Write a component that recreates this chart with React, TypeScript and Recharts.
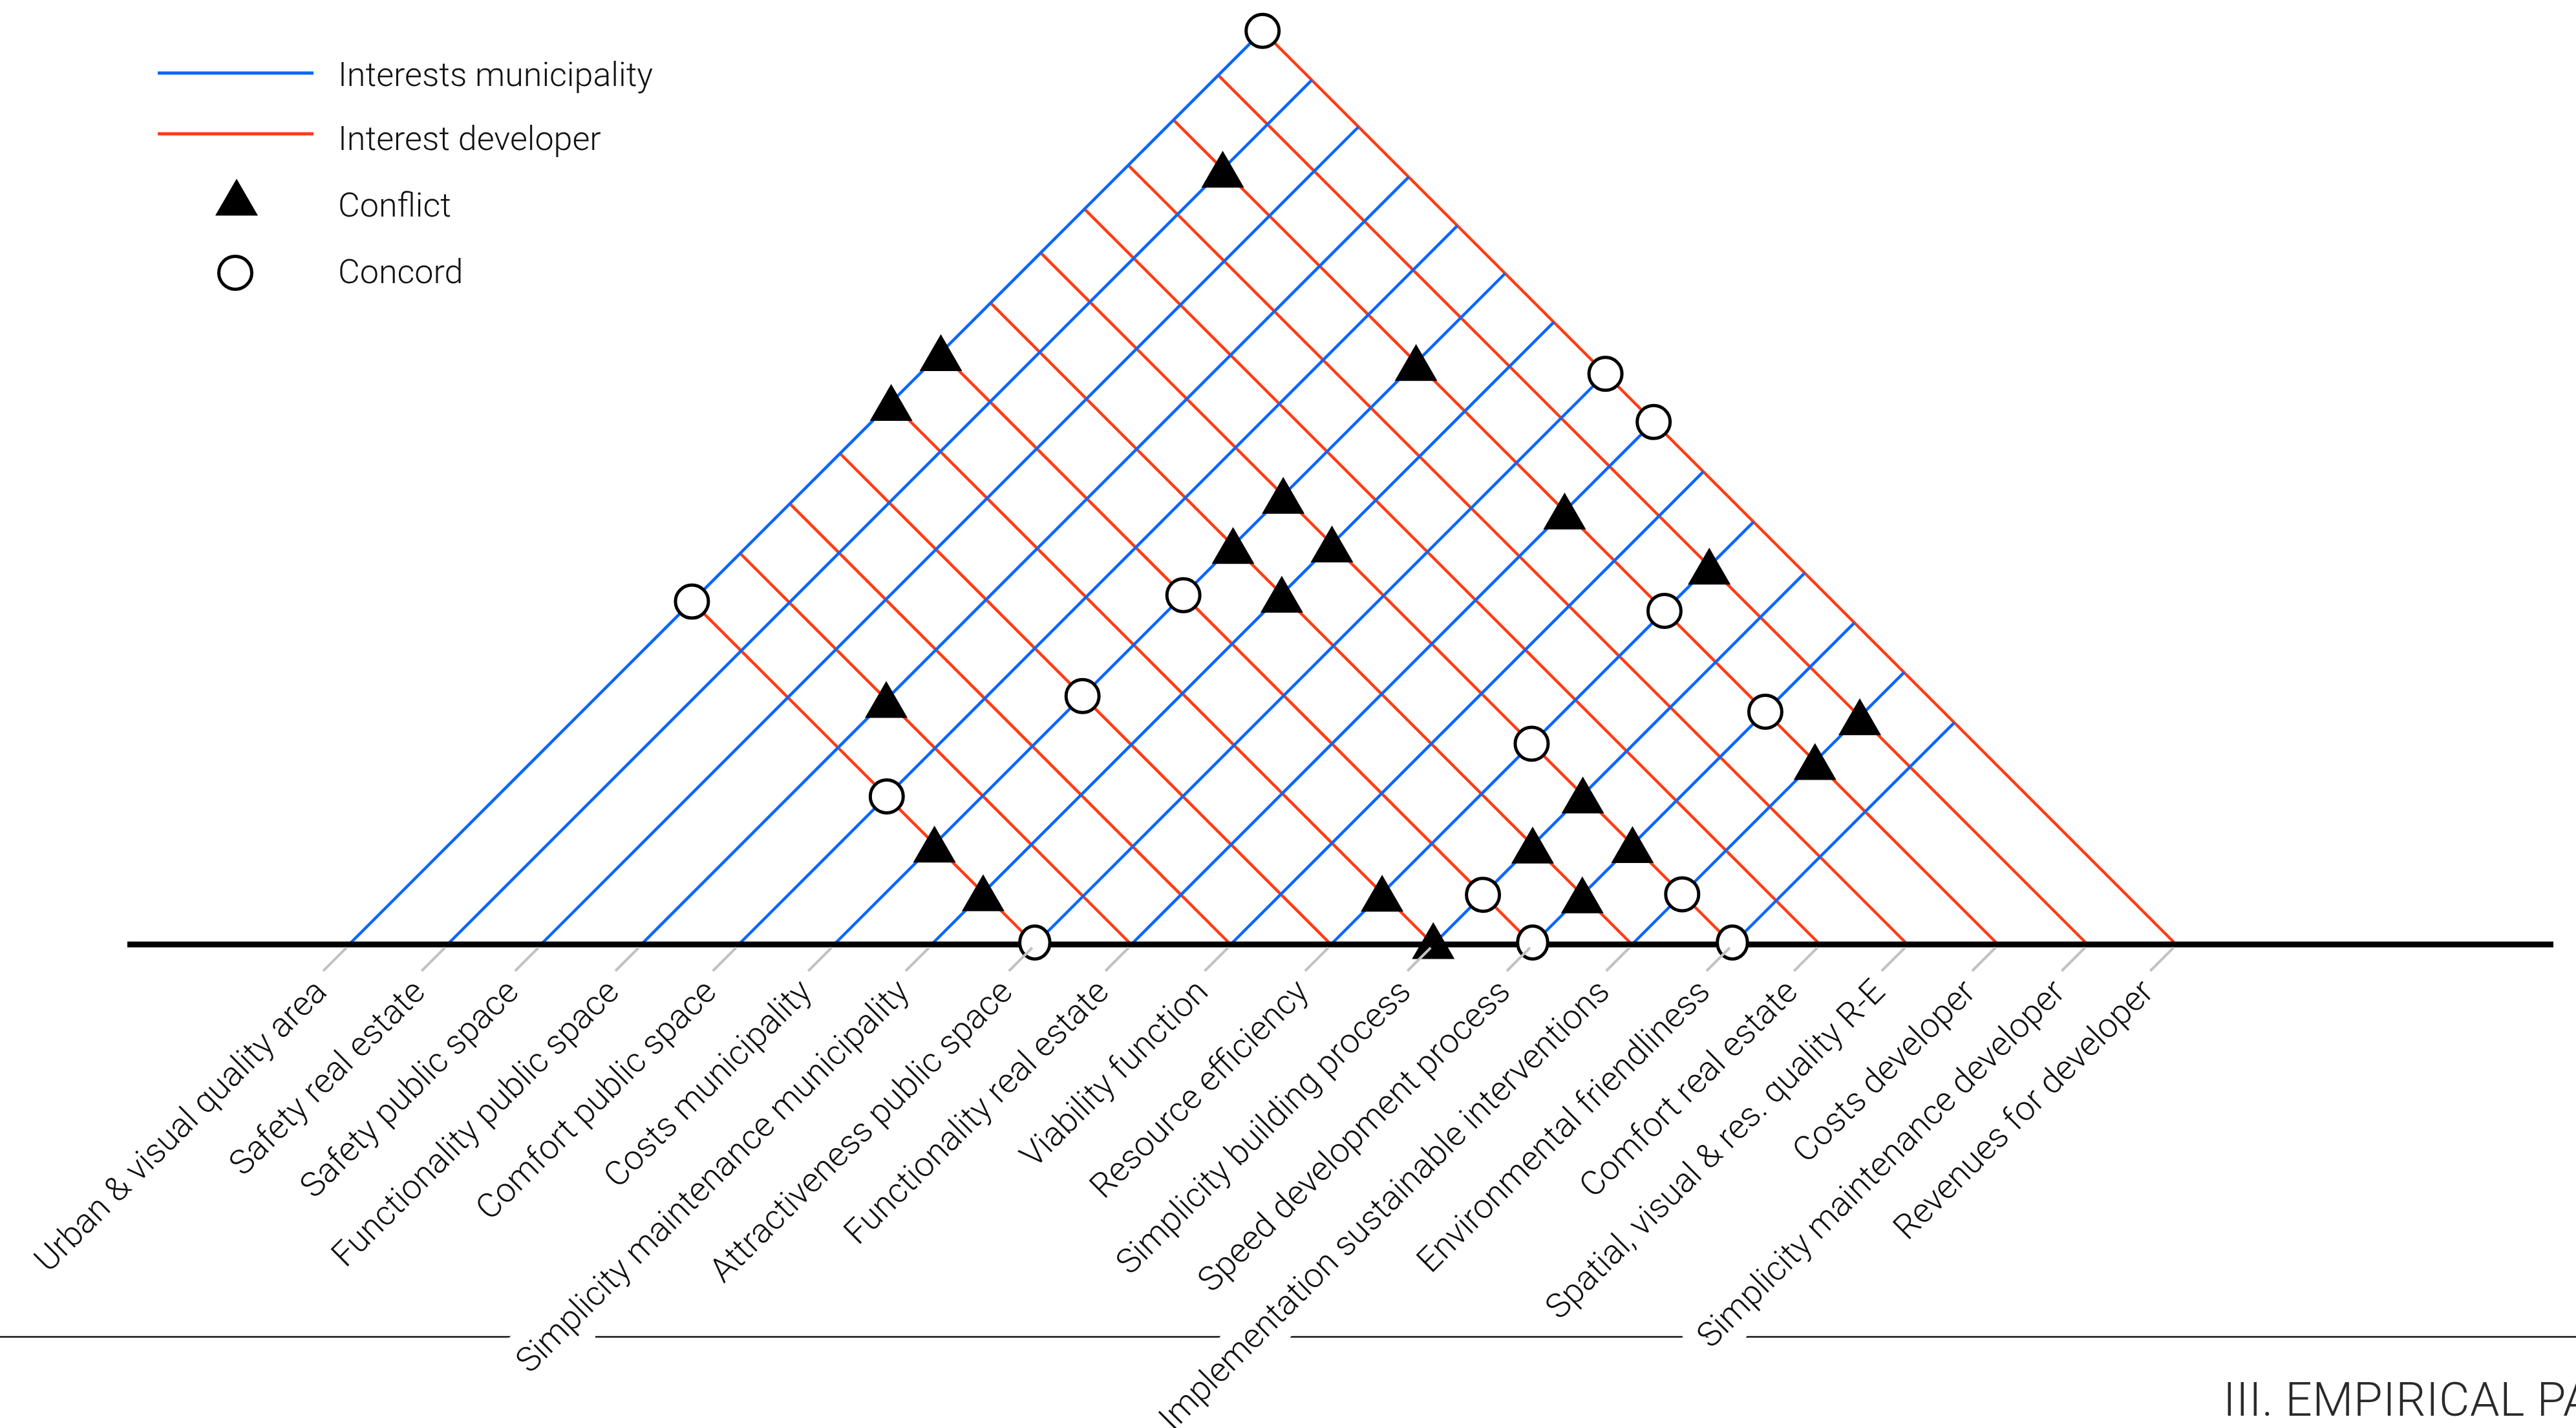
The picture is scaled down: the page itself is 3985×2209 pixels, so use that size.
import * as React from 'react'
import { ComposedChart, Legend, Line, Scatter, XAxis, YAxis } from 'recharts'

// interests along the base line, left to right
const interests = [
  'Urban & visual quality area',
  'Safety real estate',
  'Safety public space',
  'Functionality public space',
  'Comfort public space',
  'Costs municipality',
  'Simplicity maintenance municipality',
  'Attractiveness public space',
  'Functionality real estate',
  'Viability function',
  'Resource efficiency',
  'Simplicity building process',
  'Speed development process',
  'Implementation sustainable interventions',
  'Environmental friendliness',
  'Comfort real estate',
  'Spatial, visual & res. quality R-E',
  'Costs developer',
  'Simplicity maintenance developer',
  'Revenues for developer',
]

// where each interest sits on the base line (1 = one label step)
const interestPos = [
  0, 1, 1.95, 2.97, 3.96, 4.93, 5.92, 6.97, 7.95, 8.96, 9.98, 11.02, 12.03, 13.04, 14.06,
  14.95, 15.84, 16.76, 17.67, 18.57,
]

// which interests get a municipality (blue) line and a developer (red) line
const municipality = [0, 1, 2, 3, 4, 5, 6, 7, 8, 9, 10, 11, 12, 13, 14]
const developer = [7, 8, 9, 10, 11, 12, 13, 14, 15, 16, 17, 18, 19]

// [municipality interest, developer interest]
const conflicts = [
  [1, 17], [0, 12], [0, 11], [5, 17], [5, 14], [5, 13], [6, 14], [6, 13], [8, 17], [10, 18],
  [3, 8], [5, 7], [6, 7], [10, 11], [11, 11], [11, 13], [11, 14], [12, 13], [12, 14],
  [13, 18], [13, 17],
]
const concords = [
  [0, 19], [0, 7], [7, 19], [8, 19], [5, 12], [10, 17], [5, 10], [4, 7], [7, 7], [11, 12],
  [12, 12], [10, 14], [13, 14], [14, 14], [12, 17],
]

const legendLabels = ['Interests municipality', 'Interest developer', 'Conflict', 'Concord']

const BLUE = '#0a66ff'
const RED = '#ff3c14'
const FONT = "'Helvetica Neue', Roboto, 'Liberation Sans', Arial, sans-serif"

// page layout (px)
const W = 3985
const H = 2209
const LEFT = 197
const RIGHT = 3950
const TOP = 10
const BASE_Y = 1461
const AXIS_H = 700
const X0 = 540 // pixel of the first interest
const UNIT = 152.2 // px per label step, same on both axes so lines run at 45deg

const xDomain = [(LEFT - X0) / UNIT, (RIGHT - X0) / UNIT]
const yMax = (BASE_Y - TOP) / UNIT

const first = interestPos[0]
const last = interestPos[interestPos.length - 1]

const blueLines = municipality.map((i) => [
  { x: interestPos[i], y: 0 },
  { x: (interestPos[i] + last) / 2, y: (last - interestPos[i]) / 2 },
])
const redLines = developer.map((j) => [
  { x: (first + interestPos[j]) / 2, y: (interestPos[j] - first) / 2 },
  { x: interestPos[j], y: 0 },
])

const meet = ([i, j]: number[]) => ({
  x: (interestPos[i] + interestPos[j]) / 2,
  y: (interestPos[j] - interestPos[i]) / 2,
})
const conflictPoints = conflicts.map(meet)
const concordPoints = concords.map(meet)

const trianglePoints = (cx: number, cy: number) =>
  `${cx},${cy - 28.5} ${cx + 33},${cy + 28.5} ${cx - 33},${cy + 28.5}`

// markers on the base line sit slightly above it in the original
const ConflictShape = (props: any) => {
  const onBase = props.payload && props.payload.y === 0
  return <polygon points={trianglePoints(props.cx, props.cy - (onBase ? 6 : 0))} fill="#000" />
}

// circles on the base line are also a little narrower
const ConcordShape = (props: any) => {
  const onBase = props.payload && props.payload.y === 0
  return (
    <ellipse
      cx={props.cx}
      cy={props.cy - (onBase ? 3 : 0)}
      rx={onBase ? 23.3 : 25.5}
      ry={25.5}
      fill="#fff"
      stroke="#000"
      strokeWidth={5}
    />
  )
}

function InterestTick(props: any) {
  const { x, y } = props
  const index = props.index ?? props.payload?.index ?? 0
  const tx = x - 32
  const ty = y + 76
  return (
    <g>
      <text
        x={tx}
        y={ty}
        textAnchor="end"
        transform={`rotate(-45 ${tx} ${ty})`}
        fontFamily={FONT}
        fontWeight={300}
        fontSize={53}
        fill="#111"
        stroke="#fff"
        strokeWidth={50}
        strokeLinejoin="round"
        paintOrder="stroke"
      >
        {interests[index]}
      </text>
      <line x1={x - 4} y1={y + 5} x2={x - 40} y2={y + 41} stroke="#c2c2c2" strokeWidth={4} />
    </g>
  )
}

function LegendBox() {
  const textProps = { fontFamily: FONT, fontWeight: 300, fontSize: 52, fill: '#111' }
  return (
    <svg width={1100} height={480}>
      <line x1={244} x2={485} y1={113} y2={113} stroke={BLUE} strokeWidth={5} />
      <text x={523} y={133} {...textProps}>{legendLabels[0]}</text>
      <line x1={244} x2={485} y1={207} y2={207} stroke={RED} strokeWidth={5} />
      <text x={523} y={232} {...textProps}>{legendLabels[1]}</text>
      <polygon points={trianglePoints(366, 305)} fill="#000" />
      <text x={523} y={335} {...textProps}>{legendLabels[2]}</text>
      <circle cx={364} cy={422} r={25.5} fill="#fff" stroke="#000" strokeWidth={5} />
      <text x={523} y={438} {...textProps}>{legendLabels[3]}</text>
    </svg>
  )
}

export default function App() {
  return (
    <div
      style={{
        position: 'absolute',
        left: 0,
        top: 0,
        width: W,
        height: H,
        overflow: 'hidden',
        background: '#fff',
      }}
    >
      {/* page footer behind the chart */}
      <svg width={W} height={H} style={{ position: 'absolute', left: 0, top: 0 }}>
        <line x1={0} x2={W} y1={2068} y2={2068} stroke="#111" strokeWidth={2.5} />
        <text
          x={3439}
          y={2190}
          fontFamily={FONT}
          fontWeight={300}
          fontSize={73}
          letterSpacing={0.5}
          fill="#2a2a2a"
        >
          III. EMPIRICAL PART
        </text>
      </svg>
      <ComposedChart
        width={W}
        height={H}
        margin={{ top: TOP, right: W - RIGHT, bottom: H - BASE_Y - AXIS_H, left: LEFT }}
      >
        <XAxis
          type="number"
          dataKey="x"
          domain={xDomain}
          ticks={interestPos}
          interval={0}
          height={AXIS_H}
          axisLine={false}
          tickLine={false}
          tickSize={0}
          tickMargin={0}
          tick={<InterestTick />}
        />
        <YAxis type="number" dataKey="y" domain={[0, yMax]} hide width={0} />
        <Legend
          layout="vertical"
          align="center"
          verticalAlign="middle"
          wrapperStyle={{ left: 0, top: 0 }}
          content={() => <LegendBox />}
        />
        {redLines.map((d, k) => (
          <Line
            key={`red-${k}`}
            data={d}
            dataKey="y"
            stroke={RED}
            strokeWidth={4.5}
            dot={false}
            activeDot={false}
            isAnimationActive={false}
          />
        ))}
        {blueLines.map((d, k) => (
          <Line
            key={`blue-${k}`}
            data={d}
            dataKey="y"
            stroke={BLUE}
            strokeWidth={4.5}
            dot={false}
            activeDot={false}
            isAnimationActive={false}
          />
        ))}
        <Line
          data={[{ x: xDomain[0], y: 0 }, { x: xDomain[1], y: 0 }]}
          dataKey="y"
          stroke="#000"
          strokeWidth={9}
          dot={false}
          activeDot={false}
          isAnimationActive={false}
        />
        <Scatter data={conflictPoints} dataKey="y" shape={<ConflictShape />} isAnimationActive={false} />
        <Scatter data={concordPoints} dataKey="y" shape={<ConcordShape />} isAnimationActive={false} />
      </ComposedChart>
    </div>
  )
}
